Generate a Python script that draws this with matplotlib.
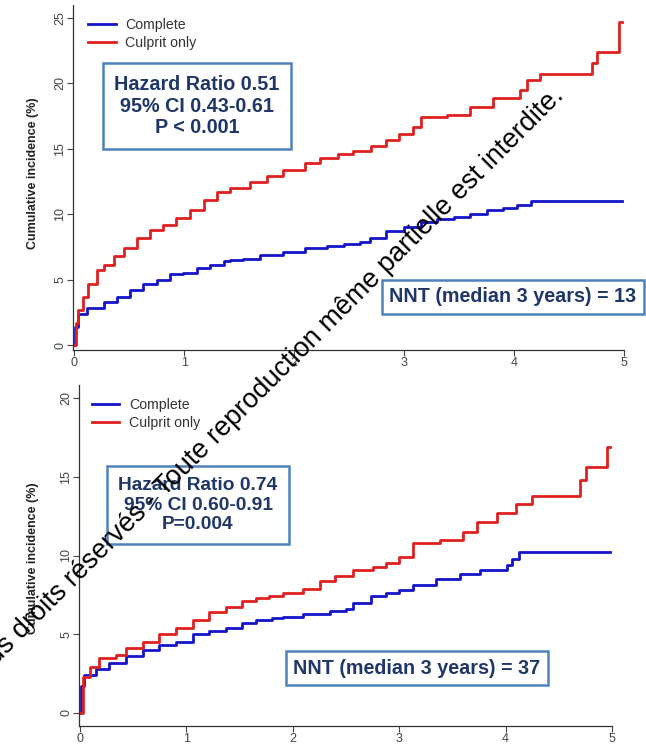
import numpy as np
import matplotlib
matplotlib.use("Agg")
import matplotlib.pyplot as plt

plt.rcParams['font.family'] = ['Liberation Sans', 'DejaVu Sans']

# donnees : temps (annees) / incidence cumulee (%)
t_haut_complete = [0, 0.01, 0.04, 0.115, 0.27, 0.39, 0.51, 0.63, 0.75, 0.87, 0.99, 1.12, 1.24,
                   1.36, 1.42, 1.54, 1.69, 1.9, 2.1, 2.3, 2.45, 2.6, 2.69, 2.84, 3.0, 3.15, 3.3,
                   3.45, 3.6, 3.75, 3.9, 4.03, 4.15, 4.98]
v_haut_complete = [0, 1.4, 2.4, 2.8, 3.3, 3.7, 4.2, 4.7, 5.0, 5.4, 5.5, 5.9, 6.1,
                   6.4, 6.5, 6.6, 6.9, 7.1, 7.4, 7.6, 7.7, 7.9, 8.2, 8.7, 9.0, 9.4, 9.6,
                   9.8, 10.0, 10.3, 10.5, 10.7, 11.0, 11.0]
t_haut_culprit = [0, 0.02, 0.04, 0.085, 0.13, 0.21, 0.27, 0.36, 0.45, 0.57, 0.69, 0.81, 0.93,
                  1.05, 1.18, 1.3, 1.42, 1.6, 1.75, 1.9, 2.1, 2.24, 2.4, 2.54, 2.7, 2.84, 2.95,
                  3.08, 3.15, 3.39, 3.6, 3.81, 4.05, 4.12, 4.24, 4.71, 4.75, 4.95, 4.98]
v_haut_culprit = [0, 1.7, 2.7, 3.7, 4.7, 5.7, 6.1, 6.8, 7.4, 8.2, 8.8, 9.2, 9.7,
                  10.3, 11.1, 11.7, 12.0, 12.5, 12.9, 13.4, 13.9, 14.3, 14.6, 14.8, 15.2, 15.7, 16.1,
                  16.7, 17.4, 17.6, 18.2, 18.9, 19.5, 20.3, 20.7, 21.6, 22.4, 24.7, 24.7]

t_bas_complete = [0, 0.01, 0.04, 0.15, 0.27, 0.43, 0.59, 0.74, 0.9, 1.06, 1.21, 1.37, 1.52,
                  1.65, 1.8, 1.91, 2.1, 2.35, 2.5, 2.57, 2.73, 2.88, 3.0, 3.13, 3.35, 3.57,
                  3.76, 4.01, 4.06, 4.13, 4.98]
v_bas_complete = [0, 1.7, 2.4, 2.8, 3.2, 3.6, 4.0, 4.3, 4.5, 5.0, 5.2, 5.4, 5.7,
                  5.9, 6.0, 6.1, 6.3, 6.5, 6.6, 7.0, 7.4, 7.6, 7.8, 8.1, 8.5, 8.8,
                  9.1, 9.4, 9.8, 10.2, 10.2]
t_bas_culprit = [0, 0.025, 0.09, 0.18, 0.34, 0.43, 0.59, 0.74, 0.9, 1.06, 1.21, 1.37, 1.52,
                 1.65, 1.78, 1.91, 2.1, 2.26, 2.4, 2.57, 2.75, 2.88, 3.0, 3.13, 3.38, 3.6,
                 3.73, 3.92, 4.1, 4.25, 4.7, 4.76, 4.95, 4.98]
v_bas_culprit = [0, 2.3, 2.9, 3.5, 3.7, 4.1, 4.5, 5.0, 5.4, 5.9, 6.4, 6.7, 7.1,
                 7.3, 7.4, 7.6, 7.9, 8.4, 8.7, 9.1, 9.3, 9.5, 9.9, 10.8, 11.0, 11.5,
                 12.1, 12.7, 13.3, 13.8, 14.8, 15.6, 16.9, 16.9]

yticks_haut = [0, 5, 10, 15, 20, 25]
yticks_bas = [0, 5, 10, 15, 20]
xticks = [0, 1, 2, 3, 4, 5]

texte_hr_haut = "Hazard Ratio 0.51\n95% CI 0.43-0.61\nP < 0.001"
texte_hr_bas = "Hazard Ratio 0.74\n95% CI 0.60-0.91\nP=0.004"
texte_nnt_haut = "NNT (median 3 years) = 13"
texte_nnt_bas = "NNT (median 3 years) = 37"

bleu = '#1414c8'
rouge = '#e02020'
navy = '#1f3768'
bord = '#4f81bd'

W, H = 646, 745
fig = plt.figure(figsize=(W / 100, H / 100), dpi=100)

def px(x, y):
    return x / W, 1 - y / H

ax1 = fig.add_axes([73 / W, 1 - 350 / H, (624 - 73) / W, (350 - 5) / H])
ax2 = fig.add_axes([79 / W, 1 - 726 / H, (612 - 79) / W, (726 - 385) / H])

for ax, tc, vc, tr, vr, yt, ylim, leg in [
        (ax1, t_haut_complete, v_haut_complete, t_haut_culprit, v_haut_culprit, yticks_haut,
         (-0.38, 26.0), (0.004, 0.998)),
        (ax2, t_bas_complete, v_bas_complete, t_bas_culprit, v_bas_culprit, yticks_bas,
         (-0.83, 20.83), (0.0, 1.0))]:
    ax.plot(tc, vc, drawstyle='steps-post', color=bleu, lw=2.0, label='Complete')
    ax.plot(tr, vr, drawstyle='steps-post', color=rouge, lw=2.0, label='Culprit only')
    ax.set_xlim(-0.01, 5.0)
    ax.set_ylim(*ylim)
    ax.set_xticks(xticks)
    ax.set_yticks(yt)
    ax.spines['top'].set_visible(False)
    ax.spines['right'].set_visible(False)
    for s in ['left', 'bottom']:
        ax.spines[s].set_color('#333333')
        ax.spines[s].set_linewidth(0.9)
    ax.tick_params(axis='both', colors='#444444', labelsize=9, length=4, width=0.8, pad=1)
    ax.tick_params(axis='y', labelrotation=90)
    for lab in ax.get_yticklabels():
        lab.set_va('center')
    ax.legend(loc='upper left', bbox_to_anchor=leg, frameon=False, fontsize=10.2,
              handlelength=1.95, labelspacing=0.27, handletextpad=0.7, labelcolor='#333333')

fig.text(*px(33, 173), "Cumulative incidence (%)", rotation=90, ha='center', va='center',
         fontsize=9, fontweight='bold', color='#222222')
fig.text(*px(33, 558), "Cumulative incidence (%)", rotation=90, ha='center', va='center',
         fontsize=9, fontweight='bold', color='#222222')

boite = dict(boxstyle='square,pad=0.6', fc='white', ec=bord, lw=1.8)
fig.text(*px(197, 106), texte_hr_haut, ha='center', va='center', fontsize=14.2, fontweight='bold',
         color=navy, linespacing=1.18, bbox=boite)
fig.text(*px(198, 505), texte_hr_bas, ha='center', va='center', fontsize=13.8, fontweight='bold',
         color=navy, linespacing=1.18, bbox=boite)
boite2 = dict(boxstyle='square,pad=0.4', fc='white', ec=bord, lw=1.8)
fig.text(*px(513, 297), texte_nnt_haut, ha='center', va='center', fontsize=14.2, fontweight='bold',
         color=navy, bbox=boite2)
fig.text(*px(417, 668), texte_nnt_bas, ha='center', va='center', fontsize=14.2, fontweight='bold',
         color=navy, bbox=boite2)

# filigrane
fig.text(*px(565, 97), "Tous droits réservés - Toute reproduction même partielle est interdite.",
         rotation=45, rotation_mode='anchor', ha='right', va='baseline', fontsize=19.5, color='black')

fig.savefig('out.png', dpi=100)
